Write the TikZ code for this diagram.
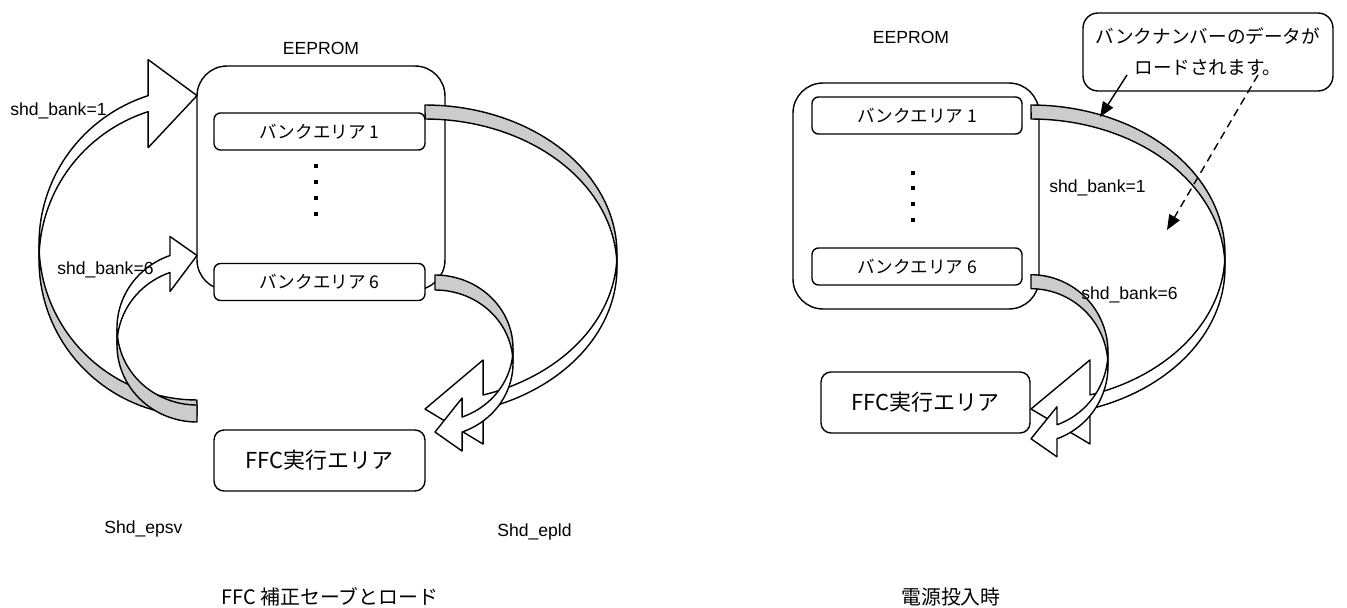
\documentclass[tikz,border=0pt]{standalone}
\usepackage{fontspec}
\setmainfont{Liberation Sans}
\newfontfamily\jpfont{Noto Sans CJK JP}
\usetikzlibrary{arrows.meta}
\tikzset{
  mem box/.style={draw,fill=white,line width=0.8pt,rounded corners=0.6cm,inner sep=0pt},
  bank box/.style={
    draw,fill=white,line width=0.8pt,rounded corners=0.13cm,minimum height=0.74cm,
    inner sep=0pt,font=\jpfont\fontsize{10}{12}\selectfont
  },
  ffc box/.style={
    draw,fill=white,line width=0.8pt,rounded corners=0.2cm,minimum height=1.22cm,
    inner sep=0pt,font=\jpfont\fontsize{12.5}{15}\selectfont
  },
  note box/.style={
    draw,fill=white,line width=0.8pt,rounded corners=0.3cm,minimum width=5cm,
    minimum height=1.56cm,inner sep=0pt,align=center,font=\jpfont\fontsize{10.6}{17.5}\selectfont
  },
  band front/.style={draw,fill=white,line width=0.8pt,line join=round},
  band back/.style={draw,fill=black!20,line width=0.8pt,line join=round},
  sig label/.style={inner sep=0pt,font=\fontsize{10}{12}\selectfont},
  cap label/.style={inner sep=0pt,font=\jpfont\fontsize{11.3}{13}\selectfont},
  note arrow/.style={line width=0.8pt,-{Triangle[length=0.3cm,width=0.24cm]}}
}
% curved block arrow, head on top pointing right
\newcommand{\ribbonup}[7]{%
  \pgfmathsetmacro\rbhx{#1+#3*cos(#6)}%
  \pgfmathsetmacro\rbya{#2+#4*sin(#6)}%
  \pgfmathsetmacro\rbyb{\rbya+#5}%
  \draw[band back] plot[domain=0:1,samples=40,variable=\t]
      ({#1+#3*cos(180-90*\t)},{#2+#4*sin(180-90*\t)})
    -- plot[domain=0:1,samples=40,variable=\t]
      ({#1+#3*cos(90+90*\t)},{#2+#5+#4*sin(90+90*\t)}) -- cycle;
  \draw[band front] (\rbhx,\rbyb) -- (\rbhx,{\rbyb+#7}) -- (#1,\rbya)
    -- (\rbhx,{\rbya-#7}) -- (\rbhx,\rbya)
    -- plot[domain=0:1,samples=40,variable=\t]
      ({#1+#3*cos(#6+(180-#6)*\t)},{#2+#4*sin(#6+(180-#6)*\t)})
    -- plot[domain=0:1,samples=40,variable=\t]
      ({#1+#3*cos(180+(#6-180)*\t)},{#2+#5+#4*sin(180+(#6-180)*\t)}) -- cycle;
}
% curved block arrow, head at the bottom pointing left
\newcommand{\ribbondown}[7]{%
  \pgfmathsetmacro\rbhx{#1+#3*cos(#6)}%
  \pgfmathsetmacro\rbya{#2+#4*sin(#6)}%
  \pgfmathsetmacro\rbyb{\rbya+#5}%
  \draw[band back] plot[domain=0:1,samples=40,variable=\t]
      ({#1+#3*cos(270+90*\t)},{#2+#4*sin(270+90*\t)})
    -- plot[domain=0:1,samples=40,variable=\t]
      ({#1+#3*cos(360-90*\t)},{#2+#5+#4*sin(360-90*\t)}) -- cycle;
  \draw[band front] plot[domain=0:1,samples=40,variable=\t]
      ({#1+#3*cos(#6*\t)},{#2+#4*sin(#6*\t)})
    -- (\rbhx,{\rbya-#7}) -- (#1,\rbyb) -- (\rbhx,{\rbyb+#7}) -- (\rbhx,\rbyb)
    -- plot[domain=0:1,samples=40,variable=\t]
      ({#1+#3*cos(#6-#6*\t)},{#2+#5+#4*sin(#6-#6*\t)}) -- cycle;
}

\begin{document}
\begin{tikzpicture}[x=0.02cm,y=-0.02cm]
  \useasboundingbox (0,0) rectangle (1347,608);

  % save and load
  \node[mem box,minimum width=4.96cm,minimum height=4.48cm] (eepL) at (321,178) {};
  \node[bank box,minimum width=4.22cm] (bankL1) at (319.5,131.5) {バンクエリア 1};
  \node[bank box,minimum width=4.22cm] (bankL6) at (319.5,282) {バンクエリア 6};
  \node[ffc box,minimum width=4.22cm] (ffcL) at (319.5,460.5) {FFC実行エリア};
  \foreach \yy in {166,182,198,214}
    \fill (316,\yy) +(-2.2,-2.2) rectangle +(2.2,2.2);
  \ribbonup{197}{244}{158}{156}{16}{252}{36}
  \ribbonup{197}{328}{80}{77}{17}{250.3}{19}
  \ribbondown{425}{253.5}{192}{148.5}{14}{72.4}{35}
  \ribbondown{435}{348.3}{78}{73.3}{15}{69.7}{19}
  \node[sig label,anchor=base] (eepLname) at (321,54.5) {EEPROM};
  \node[sig label,anchor=base west] (bankL1sig) at (10,116) {shd\_bank=1};
  \node[sig label,anchor=base west] (bankL6sig) at (57,275) {shd\_bank=6};
  \node[sig label,anchor=base west] (epsv) at (104,533) {Shd\_epsv};
  \node[sig label,anchor=base west] (epld) at (497,536) {Shd\_epld};
  \node[cap label] (capL) at (330,597) {FFC 補正セーブとロード};

  % power on
  \node[mem box,minimum width=4.92cm,minimum height=4.52cm] (eepR) at (916,196) {};
  \node[bank box,minimum width=4.2cm] (bankR1) at (917,115.5) {バンクエリア 1};
  \node[bank box,minimum width=4.2cm] (bankR6) at (917,266.5) {バンクエリア 6};
  \node[ffc box,minimum width=4.18cm] (ffcR) at (925.5,402.5) {FFC実行エリア};
  \foreach \yy in {173,188,204,220}
    \fill (913,\yy) +(-2.2,-2.2) rectangle +(2.2,2.2);
  \ribbondown{1031}{253.5}{194}{148.5}{14}{72.3}{35}
  \ribbondown{1031}{352}{77}{77.3}{14}{70.3}{18}
  \node[sig label,anchor=base] (eepRname) at (911,43.5) {EEPROM};
  \node[sig label,anchor=base west] (bankR1sig) at (1049,193) {shd\_bank=1};
  \node[sig label,anchor=base west] (bankR6sig) at (1081,299) {shd\_bank=6};
  \node[cap label] (capR) at (951,597) {電源投入時};

  \node[note box] (note) at (1208,52) {バンクナンバーのデータが\\ロードされます。};
  \coordinate (noteA) at (1127,75);
  \coordinate (noteB) at (1258,75);
  \coordinate (hitA) at (1100,117);
  \coordinate (hitB) at (1167,230);
  \draw[note arrow] (noteA) -- (hitA);
  \draw[note arrow,dash pattern=on 4.5pt off 3pt] (noteB) -- (hitB);
\end{tikzpicture}
\end{document}
